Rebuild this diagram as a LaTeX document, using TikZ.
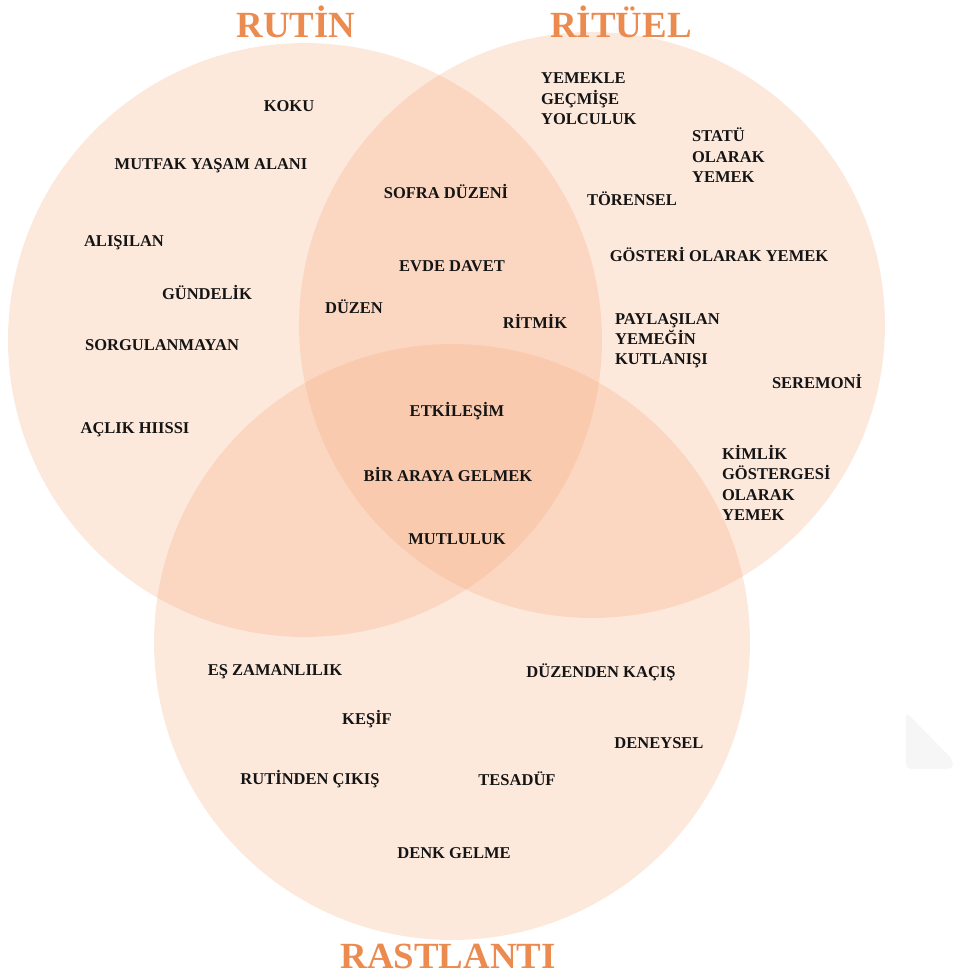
\documentclass[tikz,border=0pt]{standalone}
\usepackage{fontspec}
\setmainfont{Liberation Serif}
\usetikzlibrary{positioning}
\definecolor{setcol}{RGB}{245,160,110}
\definecolor{titlecol}{RGB}{236,139,80}
\definecolor{wordcol}{RGB}{20,20,20}

\begin{document}
\begin{tikzpicture}[
			x=0.02cm,
			y=-0.02cm,
			set/.style={
				circle,
				draw=none,
				fill=setcol,
				fill opacity=0.24,
				inner sep=0pt
			},
			settitle/.style={
				text=titlecol,
				font=\fontsize{21}{24}\selectfont\bfseries
			},
			word/.style={
				text=wordcol,
				inner sep=1pt,
				font=\fontsize{9.4}{11.6}\selectfont\bfseries
			},
			words/.style={
				word,
				align=left,
				anchor=north west
			}
			]
			\useasboundingbox (0,0) rectangle (953,976);
			
			% Sets
			\node[set, minimum size=11.88cm] (rutin) at (305,340) {};
			\node[set, minimum size=11.72cm] (rituel) at (592,325) {};
			\node[set, minimum size=11.92cm] (rastlanti) at (452,642) {};
			
			% Titles
			\node[settitle] (trutin) at (296,22) {RUTİN};
			\node[settitle] (trituel) at (621,22) {RİTÜEL};
			\node[settitle] (trastlanti) at (448,956) {RASTLANTI};
			
			% Rutin
			\node[word] (koku) at (289,106) {KOKU};
			\node[word] (mutfak) at (211,166) {MUTFAK YAŞAM ALANI};
			\node[word] (alisilan) at (124,243) {ALIŞILAN};
			\node[word] (gundelik) at (207,293) {GÜNDELİK};
			\node[word] (sorgu) at (162,345) {SORGULANMAYAN};
			\node[word] (aclik) at (135,430) {AÇLIK HIISSI};
			
			% Rutin & Ritüel
			\node[word] (sofra) at (446,192) {SOFRA DÜZENİ};
			\node[word] (davet) at (452,266) {EVDE DAVET};
			\node[word] (duzen) at (354,307) {DÜZEN};
			\node[word] (ritmik) at (535,321) {RİTMİK};
			
			% Ritüel
			\node[words] (yolculuk) at (539,71) {YEMEKLE\\GEÇMİŞE\\YOLCULUK};
			\node[words] (statu) at (690,126) {STATÜ\\OLARAK\\YEMEK};
			\node[word] (torensel) at (632,199) {TÖRENSEL};
			\node[word] (gosteri) at (719,255) {GÖSTERİ OLARAK YEMEK};
			\node[words] (kutlama) at (613,311) {PAYLAŞILAN\\YEMEĞİN\\KUTLANIŞI};
			\node[word] (seremoni) at (817,382) {SEREMONİ};
			\node[words] (kimlik) at (720,443) {KİMLİK\\GÖSTERGESİ\\OLARAK\\YEMEK};
			
			% Ortak
			\node[word] (etkilesim) at (457,411) {ETKİLEŞİM};
			\node[word] (arada) at (448,475) {BİR ARAYA GELMEK};
			\node[word] (mutluluk) at (457,539) {MUTLULUK};
			
			% Rastlanti
			\node[word] (eszaman) at (275,672) {EŞ ZAMANLILIK};
			\node[word] (kacis) at (601,672) {DÜZENDEN KAÇIŞ};
			\node[word] (kesif) at (367,719) {KEŞİF};
			\node[word] (deneysel) at (659,743) {DENEYSEL};
			\node[word] (cikis) at (310,779) {RUTİNDEN ÇIKIŞ};
			\node[word] (tesaduf) at (517,779) {TESADÜF};
			\node[word] (denk) at (454,853) {DENK GELME};
			
			% corner
			\fill[gray!7, rounded corners=3pt] (906,712) -- (953,760) -- (953,769) -- (906,769) -- cycle;
		\end{tikzpicture}
\end{document}
